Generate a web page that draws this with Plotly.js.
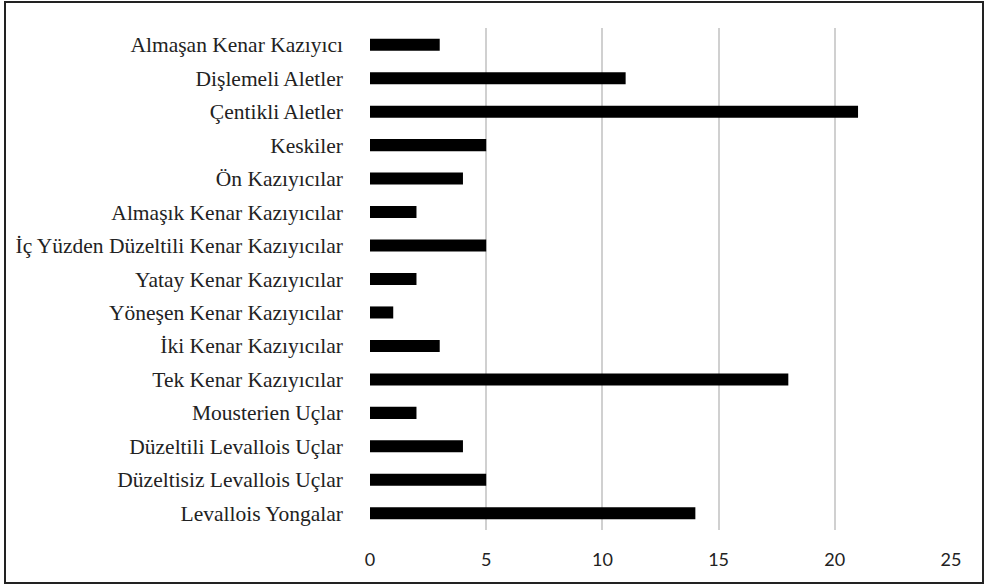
<!DOCTYPE html>
<html>
<head>
<meta charset="utf-8">
<script src="https://cdn.plot.ly/plotly-3.0.1.min.js"></script>
<style>
html,body{margin:0;padding:0;background:#fff;}
#wrap{position:relative;width:985px;height:585px;}
#chart{width:985px;height:585px;}
#frame{position:absolute;left:4px;top:1px;width:976px;height:579px;border:2px solid #222;pointer-events:none;box-sizing:content-box;}
</style>
</head>
<body>
<div id="wrap"><div id="chart"></div><div id="frame"></div></div>
<script>
const categories = [
  "Almaşan Kenar Kazıyıcı",
  "Dişlemeli Aletler",
  "Çentikli Aletler",
  "Keskiler",
  "Ön Kazıyıcılar",
  "Almaşık Kenar Kazıyıcılar",
  "İç Yüzden Düzeltili Kenar Kazıyıcılar",
  "Yatay Kenar Kazıyıcılar",
  "Yöneşen Kenar Kazıyıcılar",
  "İki Kenar Kazıyıcılar",
  "Tek Kenar Kazıyıcılar",
  "Mousterien Uçlar",
  "Düzeltili Levallois Uçlar",
  "Düzeltisiz Levallois Uçlar",
  "Levallois Yongalar"
];
const counts = [3, 11, 21, 5, 4, 2, 5, 2, 1, 3, 18, 2, 4, 5, 14];
const xTicks = [0, 5, 10, 15, 20, 25];

Plotly.newPlot('chart', [{
  type: 'bar',
  orientation: 'h',
  y: categories,
  x: counts,
  marker: {color: '#000000'},
  hoverinfo: 'none'
}], {
  width: 985, height: 585,
  margin: {l: 370, r: 34, t: 28, b: 55},
  paper_bgcolor: '#ffffff',
  plot_bgcolor: '#ffffff',
  bargap: 0.64,
  showlegend: false,
  xaxis: {
    range: [0, 25],
    tickvals: xTicks,
    ticktext: xTicks.map(String),
    showgrid: true,
    gridcolor: '#d0d0d0',
    gridwidth: 2,
    zeroline: false,
    showline: false,
    ticks: '',
    ticklabelstandoff: 17,
    tickfont: {family: 'Lato, Open Sans, sans-serif', size: 18, color: '#222'}
  },
  yaxis: {
    autorange: 'reversed',
    type: 'category',
    showgrid: false,
    zeroline: false,
    showline: false,
    ticks: '',
    ticklabelstandoff: 26,
    tickfont: {family: 'Liberation Serif, Times New Roman, serif', size: 21.5, color: '#222'}
  }
}, {displayModeBar: false, staticPlot: true});
</script>
</body>
</html>
